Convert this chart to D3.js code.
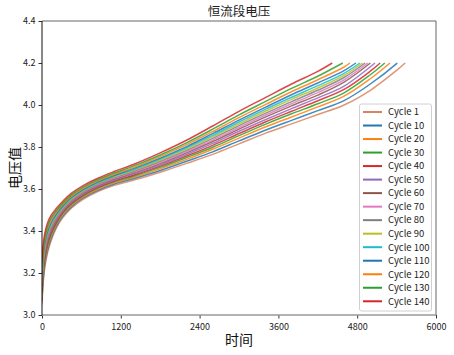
<!DOCTYPE html>
<html><head><meta charset="utf-8">
<script src="https://cdn.jsdelivr.net/npm/d3@7/dist/d3.min.js"></script>
<style>
html,body{margin:0;padding:0;background:#fff;}
svg{display:block;font-family:"Noto Sans CJK SC","Noto Sans",sans-serif;}
</style></head>
<body>
<svg id="chart" width="454" height="355"></svg>
<script>
const cycles = [1, 10, 20, 30, 40, 50, 60, 70, 80, 90, 100, 110, 120, 130, 140];
const colors = ["#d8845f", "#1f77b4", "#ff7f0e", "#2ca02c", "#d62728", "#9467bd", "#8c564b",
  "#e377c2", "#7f7f7f", "#bcbd22", "#17becf", "#1f77b4", "#ff7f0e", "#2ca02c", "#d62728"];
const timeGrid = [0, 15, 40, 80, 140, 220, 320, 450, 620, 850, 1100, 1400, 1800, 2200, 2600, 3000, 3400, 3800, 4200, 4600, 5000, 5400];
const endTimes = [5530, 5410, 5300, 5220, 5150, 5070, 5000, 4960, 4920, 4880, 4840, 4780, 4690, 4580, 4420];
const endVoltage = 4.2;
const v1   = [3.050, 3.140, 3.220, 3.290, 3.355, 3.415, 3.465, 3.510, 3.550, 3.588, 3.618, 3.643, 3.680, 3.722, 3.765, 3.815, 3.865, 3.910, 3.955, 4.000, 4.070, 4.165];
const v10  = [3.068, 3.156, 3.235, 3.303, 3.366, 3.423, 3.472, 3.516, 3.556, 3.594, 3.624, 3.650, 3.688, 3.732, 3.777, 3.829, 3.880, 3.927, 3.973, 4.021, 4.100, 4.197];
const v20  = [3.085, 3.172, 3.249, 3.315, 3.376, 3.431, 3.479, 3.522, 3.561, 3.599, 3.629, 3.656, 3.696, 3.741, 3.789, 3.842, 3.895, 3.943, 3.991, 4.042, 4.125];
const v30  = [3.100, 3.185, 3.261, 3.326, 3.385, 3.438, 3.485, 3.528, 3.566, 3.604, 3.634, 3.662, 3.703, 3.750, 3.799, 3.854, 3.908, 3.958, 4.006, 4.058, 4.144];
const v40  = [3.113, 3.197, 3.272, 3.336, 3.393, 3.444, 3.490, 3.532, 3.570, 3.608, 3.638, 3.667, 3.709, 3.757, 3.808, 3.864, 3.919, 3.970, 4.020, 4.074, 4.161];
const v50  = [3.127, 3.209, 3.284, 3.346, 3.401, 3.451, 3.495, 3.537, 3.575, 3.612, 3.643, 3.672, 3.715, 3.764, 3.817, 3.875, 3.930, 3.983, 4.034, 4.090, 4.182];
const v60  = [3.140, 3.221, 3.294, 3.355, 3.409, 3.457, 3.500, 3.542, 3.579, 3.616, 3.647, 3.677, 3.721, 3.772, 3.826, 3.885, 3.942, 3.996, 4.047, 4.109];
const v70  = [3.151, 3.231, 3.303, 3.363, 3.416, 3.462, 3.504, 3.545, 3.583, 3.620, 3.651, 3.681, 3.726, 3.778, 3.833, 3.893, 3.951, 4.006, 4.059, 4.120];
const v80  = [3.162, 3.241, 3.312, 3.371, 3.422, 3.467, 3.509, 3.549, 3.586, 3.623, 3.654, 3.685, 3.732, 3.784, 3.841, 3.902, 3.960, 4.016, 4.070, 4.131];
const v90  = [3.173, 3.251, 3.321, 3.379, 3.429, 3.472, 3.513, 3.553, 3.590, 3.627, 3.658, 3.689, 3.737, 3.790, 3.848, 3.910, 3.970, 4.027, 4.081, 4.141];
const v100 = [3.184, 3.261, 3.331, 3.387, 3.435, 3.477, 3.517, 3.557, 3.594, 3.630, 3.662, 3.693, 3.742, 3.796, 3.855, 3.919, 3.979, 4.037, 4.092, 4.151];
const v110 = [3.196, 3.271, 3.340, 3.396, 3.443, 3.483, 3.522, 3.561, 3.597, 3.634, 3.665, 3.698, 3.747, 3.802, 3.864, 3.928, 3.989, 4.049, 4.105, 4.164];
const v120 = [3.211, 3.285, 3.353, 3.407, 3.452, 3.490, 3.528, 3.566, 3.602, 3.639, 3.670, 3.703, 3.754, 3.811, 3.874, 3.940, 4.002, 4.063, 4.120, 4.181];
const v130 = [3.228, 3.300, 3.367, 3.419, 3.462, 3.498, 3.534, 3.572, 3.608, 3.644, 3.676, 3.710, 3.762, 3.820, 3.885, 3.953, 4.016, 4.079, 4.137];
const v140 = [3.250, 3.320, 3.385, 3.435, 3.475, 3.508, 3.543, 3.580, 3.615, 3.651, 3.683, 3.718, 3.772, 3.832, 3.900, 3.970, 4.035, 4.100, 4.160];
const voltages = [v1, v10, v20, v30, v40, v50, v60, v70, v80, v90, v100, v110, v120, v130, v140];
const xTicks = [0, 1200, 2400, 3600, 4800, 6000];
const yTicks = [3.0, 3.2, 3.4, 3.6, 3.8, 4.0, 4.2, 4.4];
const title = "恒流段电压", xLabel = "时间", yLabel = "电压值";

const svg = d3.select("#chart");
const L = 42, R = 436, T = 21, B = 315;
const x = d3.scaleLinear().domain([0, 6000]).range([L, R]);
const y = d3.scaleLinear().domain([3.0, 4.4]).range([B, T]);

const series = cycles.map((c, i) => {
  const pts = [];
  voltages[i].forEach((v, j) => { if (timeGrid[j] < endTimes[i]) pts.push([timeGrid[j], v]); });
  pts.push([endTimes[i], endVoltage]);
  return {cycle: c, color: colors[i], pts};
});

svg.append("clipPath").attr("id", "clip").append("rect")
  .attr("x", L).attr("y", T).attr("width", R - L).attr("height", B - T);

const line = d3.line().x(d => x(d[0])).y(d => y(d[1])).curve(d3.curveCatmullRom.alpha(0.5));
svg.append("g").attr("clip-path", "url(#clip)")
  .selectAll("path").data(series).join("path")
  .attr("d", d => line(d.pts)).attr("fill", "none")
  .attr("stroke", d => d.color).attr("stroke-width", 1.5).attr("stroke-opacity", 0.85);

// axes
const xAxis = svg.append("g").attr("transform", `translate(0,${B})`)
  .call(d3.axisBottom(x).tickValues(xTicks).tickFormat(d3.format("d")).tickSizeOuter(0).tickSize(3.5));
const yAxis = svg.append("g").attr("transform", `translate(${L},0)`)
  .call(d3.axisLeft(y).tickValues(yTicks).tickFormat(d3.format(".1f")).tickSizeOuter(0).tickSize(3.5));
[xAxis, yAxis].forEach(a => {
  a.select(".domain").remove();
  a.selectAll("text").attr("font-size", 9).attr("fill", "#222")
    .attr("font-family", "'Noto Sans CJK SC', sans-serif");
  a.selectAll("line").attr("stroke", "#333");
});
xAxis.selectAll("text").attr("dy", "0.9em");

// spines
svg.append("line").attr("x1", L).attr("x2", R).attr("y1", T).attr("y2", T).attr("stroke", "#666");
svg.append("line").attr("x1", R).attr("x2", R).attr("y1", T).attr("y2", B).attr("stroke", "#666");
svg.append("line").attr("x1", L).attr("x2", R).attr("y1", B).attr("y2", B).attr("stroke", "#999").attr("stroke-width", 1.5);
svg.append("line").attr("x1", L).attr("x2", L).attr("y1", T).attr("y2", B).attr("stroke", "#111");

// labels
svg.append("text").attr("x", (L + R) / 2).attr("y", 16).attr("text-anchor", "middle")
  .attr("font-size", 12.5).attr("fill", "#222").text(title);
svg.append("text").attr("x", (L + R) / 2).attr("y", 345).attr("text-anchor", "middle")
  .attr("font-size", 14).attr("fill", "#111").text(xLabel);
svg.append("text").attr("transform", `translate(20,${(T + B) / 2}) rotate(-90)`).attr("text-anchor", "middle")
  .attr("font-size", 14).attr("fill", "#111").text(yLabel);

// legend
const lg = svg.append("g");
lg.append("rect").attr("x", 359.5).attr("y", 104).attr("width", 72).attr("height", 207)
  .attr("rx", 2).attr("fill", "#fff").attr("fill-opacity", 0.85).attr("stroke", "#d0d0d0");
const items = lg.selectAll("g.item").data(series).join("g")
  .attr("transform", (d, i) => `translate(0,${112 + i * 13.52})`);
items.append("line").attr("x1", 363).attr("x2", 382).attr("y1", 0).attr("y2", 0)
  .attr("stroke", d => d.color).attr("stroke-width", 2);
items.append("text").attr("x", 388).attr("y", 0).attr("dy", "0.35em")
  .attr("font-size", 9.5).attr("fill", "#222").text(d => "Cycle " + d.cycle);
</script>
</body></html>
